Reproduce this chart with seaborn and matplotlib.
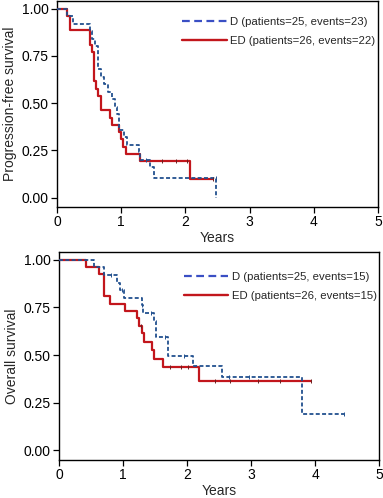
import numpy as np
import pandas as pd
import matplotlib
matplotlib.use("Agg")
import matplotlib.pyplot as plt
import seaborn as sns
from matplotlib.lines import Line2D

# ---------------- data ----------------
# Progression-free survival (top panel)
pfs_d_t = [0, 0.15, 0.25, 0.51, 0.55, 0.59, 0.635, 0.68, 0.73, 0.80, 0.85, 0.90, 0.93, 0.97, 1.04, 1.09, 1.28, 1.30, 1.45, 1.51, 2.47]
pfs_d_s = [1.0, 0.96, 0.92, 0.88, 0.84, 0.80, 0.68, 0.64, 0.60, 0.56, 0.52, 0.48, 0.44, 0.36, 0.32, 0.28, 0.24, 0.20, 0.16, 0.105, 0.0]
pfs_d_cens_t = [1.38, 2.47]
pfs_d_cens_s = [0.20, 0.105]

pfs_e_t = [0, 0.15, 0.21, 0.52, 0.55, 0.58, 0.61, 0.645, 0.69, 0.82, 0.85, 0.96, 0.99, 1.03, 1.07, 1.29, 2.07, 2.43]
pfs_e_s = [1.0, 0.962, 0.885, 0.808, 0.769, 0.615, 0.577, 0.538, 0.462, 0.423, 0.385, 0.346, 0.308, 0.269, 0.231, 0.192, 0.096, 0.096]
pfs_e_cens_t = [1.64, 1.86, 2.02, 2.43]
pfs_e_cens_s = [0.192, 0.192, 0.192, 0.096]

# Overall survival (bottom panel)
os_d_t = [0, 0.54, 0.71, 0.90, 0.955, 1.01, 1.29, 1.32, 1.48, 1.51, 1.71, 2.10, 2.54, 3.80, 4.45]
os_d_s = [1.0, 0.96, 0.92, 0.88, 0.84, 0.80, 0.76, 0.72, 0.68, 0.595, 0.496, 0.442, 0.385, 0.193, 0.193]
os_d_cens_t = [0.82, 0.98, 1.30, 1.44, 1.66, 1.95, 2.65, 2.97, 4.45]
os_d_cens_s = [0.92, 0.84, 0.76, 0.72, 0.595, 0.496, 0.385, 0.385, 0.193]

os_e_t = [0, 0.42, 0.63, 0.70, 0.80, 1.03, 1.22, 1.25, 1.30, 1.33, 1.45, 1.49, 1.63, 2.19, 3.93]
os_e_s = [1.0, 0.962, 0.923, 0.808, 0.769, 0.731, 0.692, 0.654, 0.615, 0.569, 0.525, 0.48, 0.437, 0.366, 0.366]
os_e_cens_t = [1.28, 1.74, 1.90, 2.02, 2.44, 2.67, 3.11, 3.45, 3.93]
os_e_cens_s = [0.654, 0.437, 0.437, 0.437, 0.366, 0.366, 0.366, 0.366, 0.366]

top_labels = ["D (patients=25, events=23)", "ED (patients=26, events=22)"]
bot_labels = ["D (patients=25, events=15)", "ED (patients=26, events=15)"]
ylabels = ["Progression-free survival", "Overall survival"]
xticks = [0, 1, 2, 3, 4, 5]
yticks = [0.0, 0.25, 0.5, 0.75, 1.0]
ytick_labels = ["0.00", "0.25", "0.50", "0.75", "1.00"]

# ---------------- style ----------------
sns.set_style("white")
plt.rcParams["font.family"] = ["Liberation Sans", "DejaVu Sans"]

BLUE = "#22508f"
BLUE_LEG = "#3a4fc4"
RED = "#c2161c"

fig = plt.figure(figsize=(3.83, 4.98), dpi=100)
ax1 = fig.add_axes([57/383, 1 - 207/498, 321/383, 206/498])
ax2 = fig.add_axes([59/383, 1 - 460/498, 320/383, 208/498])


def draw(ax, dt, ds, dct, dcs, et, es, ect, ecs, labels, ylabel, leg_y):
    dd = pd.DataFrame({"t": dt, "S": ds})
    de = pd.DataFrame({"t": et, "S": es})
    sns.lineplot(data=de, x="t", y="S", ax=ax, drawstyle="steps-post", estimator=None,
                 sort=False, color=RED, lw=1.6, zorder=3)
    sns.lineplot(data=dd, x="t", y="S", ax=ax, drawstyle="steps-post", estimator=None,
                 sort=False, color=BLUE, lw=1.3, linestyle=(0, (2.2, 1.3)), zorder=4)
    ax.scatter(ect, ecs, marker="|", s=9, color="#6a2020", linewidths=0.7, zorder=5)
    ax.scatter(dct, dcs, marker="|", s=9, color=BLUE, linewidths=0.7, zorder=5)
    ax.set_xlim(0, 5)
    ax.set_ylim(-0.05, 1.04)
    ax.set_xticks(xticks)
    ax.set_xticklabels([str(x) for x in xticks])
    ax.set_yticks(yticks)
    ax.set_yticklabels(ytick_labels)
    ax.tick_params(axis="both", direction="out", length=4, width=0.9, labelsize=10,
                   colors="black", pad=2, bottom=True, left=True)
    for sp in ax.spines.values():
        sp.set_color("black")
        sp.set_linewidth(1.0)
    ax.set_xlabel("Years", fontsize=10, labelpad=1)
    ax.set_ylabel(ylabel, fontsize=10, labelpad=3)
    handles = [Line2D([], [], color=BLUE_LEG, lw=1.6, linestyle=(0, (3.5, 2.0))),
               Line2D([], [], color=RED, lw=1.7)]
    ax.legend(handles, labels, loc="upper left", bbox_to_anchor=(0.39, leg_y),
              frameon=False, fontsize=8.2, handlelength=3.9, handletextpad=0.3,
              borderpad=0, borderaxespad=0, labelspacing=0.77)


draw(ax1, pfs_d_t, pfs_d_s, pfs_d_cens_t, pfs_d_cens_s,
     pfs_e_t, pfs_e_s, pfs_e_cens_t, pfs_e_cens_s, top_labels, ylabels[0], 0.922)
draw(ax2, os_d_t, os_d_s, os_d_cens_t, os_d_cens_s,
     os_e_t, os_e_s, os_e_cens_t, os_e_cens_s, bot_labels, ylabels[1], 0.904)

fig.savefig("out.png", dpi=100)
